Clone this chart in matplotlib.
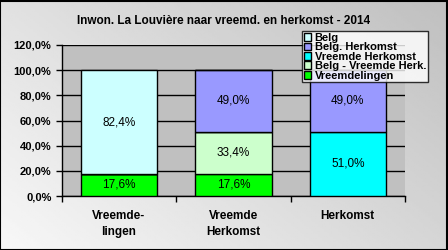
import matplotlib.pyplot as plt
import numpy as np

# Data
categories = ['Vreemde-\nlingen', 'Vreemde\nHerkomst', 'Herkomst']
series = ['Vreemdelingen', 'Belg - Vreemde Herk.', 'Vreemde Herkomst', 'Belg. Herkomst', 'Belg']
vreemdelingen = [17.6, 17.6, 0.0]
belg_vreemde_herk = [0.0, 33.4, 0.0]
vreemde_herkomst = [0.0, 0.0, 51.0]
belg_herkomst = [0.0, 49.0, 49.0]
belg = [82.4, 0.0, 0.0]
colors = ['#00FF00', '#CCFFCC', '#00FFFF', '#9999FF', '#CCFFFF']
yticks = [0, 20, 40, 60, 80, 100, 120]

plt.rcParams['font.family'] = ['Liberation Sans', 'DejaVu Sans']

fig = plt.figure(figsize=(4.48, 2.5), dpi=100)

# gradient background
bg = fig.add_axes([0, 0, 1, 1], zorder=-2)
g = np.linspace(0, 1, 200)
grad = 0.97 - 0.22 * (0.6 * g[None, :] + 0.4 * g[:, None])
bg.imshow(grad, cmap='gray', vmin=0, vmax=1, aspect='auto', extent=[0, 1, 0, 1])
bg.set_xlim(0, 1)
bg.set_ylim(1, 0)
bg.axis('off')
bg.add_patch(plt.Rectangle((0.001, 0.002), 0.997, 0.995, fill=False, edgecolor='black', lw=1.5,
                           transform=bg.transAxes))

ax = fig.add_axes([0.138, 0.216, 0.766, 0.604])
ax.set_facecolor('#C0C0C0')

x = np.arange(len(categories))
data = [vreemdelingen, belg_vreemde_herk, vreemde_herkomst, belg_herkomst, belg]
bottom = np.zeros(len(categories))
for name, vals, col in zip(series, data, colors):
    vals = np.array(vals)
    ax.bar(x, vals, 0.667, bottom=bottom, color=col, edgecolor='black', linewidth=1, label=name, zorder=3)
    for xi, v, b in zip(x, vals, bottom):
        if v > 0:
            ax.text(xi, b + v / 2, f'{v:.1f}%'.replace('.', ','), ha='center', va='center',
                    fontsize=8.5, zorder=4)
    bottom += vals

ax.set_xlim(-0.5, 2.5)
ax.set_ylim(0, 120)
ax.set_yticks(yticks)
ax.set_yticklabels([f'{t:.1f}%'.replace('.', ',') for t in yticks], fontsize=8, fontweight='bold')
ax.set_xticks([-0.5, 0.5, 1.5, 2.5], minor=False)
ax.set_xticklabels([])
ax.set_xticks(x, minor=True)
ax.set_xticklabels(categories, minor=True, fontsize=8.5, fontweight='bold', linespacing=1.5)
ax.tick_params(axis='x', which='minor', length=0, pad=10)
ax.tick_params(axis='x', which='major', length=4, width=1)
ax.tick_params(axis='y', length=4, width=1)
ax.grid(axis='y', color='black', linewidth=1, zorder=0)
for s in ['top', 'right']:
    ax.spines[s].set_visible(False)
for s in ['left', 'bottom']:
    ax.spines[s].set_linewidth(1)

handles, labels = ax.get_legend_handles_labels()
leg = fig.legend(handles[::-1], labels[::-1], loc='upper left', bbox_to_anchor=(0.674, 0.875),
                 prop={'weight': 'bold', 'size': 8}, frameon=True, fancybox=False,
                 handlelength=0.7, handleheight=0.7, handletextpad=0.3, borderpad=0.15,
                 labelspacing=-0.05, borderaxespad=0)
leg.get_frame().set_edgecolor('black')
leg.get_frame().set_linewidth(1)

fig.text(0.5, 0.915, 'Inwon. La Louvière naar vreemd. en herkomst - 2014', ha='center', va='center',
         fontsize=8.5, fontweight='bold')

plt.savefig('out.png', dpi=100)
